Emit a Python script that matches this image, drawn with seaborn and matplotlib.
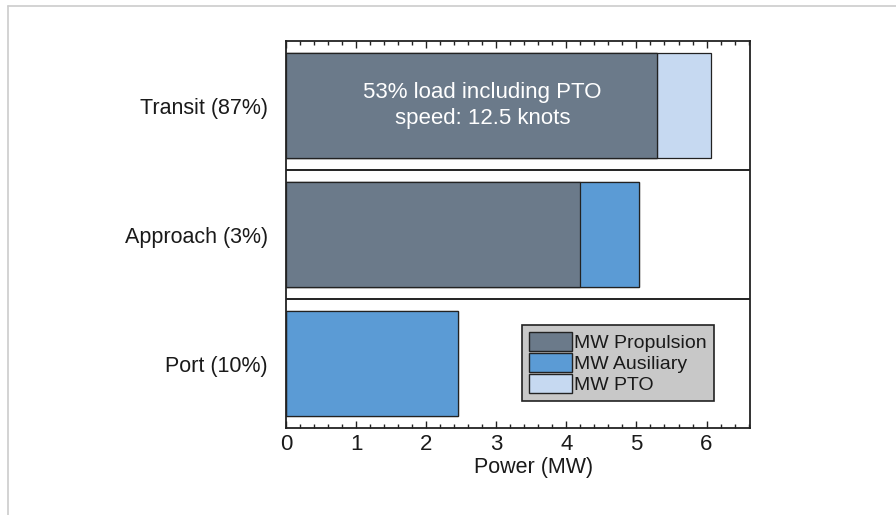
import matplotlib
matplotlib.use("Agg")
import matplotlib.pyplot as plt
import seaborn as sns
import pandas as pd
import numpy as np
from matplotlib.patches import Patch
from matplotlib.ticker import MultipleLocator

sns.set_style("white")
plt.rcParams['font.family'] = ['Liberation Sans', 'DejaVu Sans']

categories = ["Transit (87%)", "Approach (3%)", "Port (10%)"]
propulsion = [5.30, 4.20, 0.0]
auxiliary = [0.0, 0.83, 2.45]
pto = [0.77, 0.0, 0.0]
series_names = ["MW Propulsion", "MW Ausiliary", "MW PTO"]
colors = ["#6b7a8a", "#5b9bd5", "#c6d9f1"]
x_ticks = [0, 1, 2, 3, 4, 5, 6]
annotation = "53% load including PTO\nspeed: 12.5 knots"

df = pd.DataFrame({"cat": categories, "prop": propulsion, "aux": auxiliary, "pto": pto})
df["c1"] = df["prop"]
df["c2"] = df["prop"] + df["aux"]
df["c3"] = df["c2"] + df["pto"]

fig = plt.figure(figsize=(8.96, 5.15), dpi=100)
ax = fig.add_axes([286/896, 1-428/515, (750-286)/896, (428-41)/515])

for col, color in zip(["c3", "c2", "c1"], [colors[2], colors[1], colors[0]]):
    sns.barplot(data=df, x=col, y="cat", order=categories, color=color, ax=ax,
                width=0.81, edgecolor="#222222", linewidth=0.9, saturation=1)

ax.set_xlim(0, 6.62)
ax.set_ylim(2.5, -0.5)
ax.set_xticks(x_ticks)
ax.xaxis.set_minor_locator(MultipleLocator(0.2))
ax.tick_params(axis="x", which="major", direction="in", length=5, width=1, top=True, bottom=True,
               labelsize=16, pad=4, color="#222222", labelcolor="#1a1a1a")
ax.tick_params(axis="x", which="minor", direction="in", length=3, width=1, top=True, bottom=True,
               color="#222222")
ax.tick_params(axis="y", length=0, labelsize=15.5, pad=13, labelcolor="#1a1a1a")
ax.set_xlabel("Power (MW)", fontsize=15.5, labelpad=-1, color="#1a1a1a")
ax.xaxis.set_label_coords((534-286)/464, -0.075)
ax.xaxis.label.set_va("top")
ax.set_ylabel("")
for s in ax.spines.values():
    s.set_visible(True)
    s.set_color("#222222")
    s.set_linewidth(1.3)

for yy in [0.5, 1.5]:
    ax.axhline(yy, color="#111111", linewidth=1.3)

ax.text(2.80, 0, annotation, color="white", ha="center", va="center", fontsize=16, linespacing=1.28)

handles = [Patch(facecolor=c, edgecolor="#222222", linewidth=1.0, label=n) for c, n in zip(colors, series_names)]
leg = ax.legend(handles=handles, loc="lower left", bbox_to_anchor=((522-286)/464, (428-401)/387),
                fontsize=14, frameon=True, fancybox=False, handlelength=2.2, handleheight=1.1,
                handletextpad=0.15, borderpad=0.35, labelspacing=0.06, borderaxespad=0)
leg.get_frame().set_facecolor("#c8c8c8")
leg.get_frame().set_edgecolor("#222222")
leg.get_frame().set_linewidth(1.2)
leg.get_frame().set_alpha(1)
for t in leg.get_texts():
    t.set_color("#1a1a1a")

# page border (left and top)
fig.add_artist(plt.Line2D([7.5/896, 7.5/896], [0, 1-5.5/515], color="#cccccc", linewidth=1.2, transform=fig.transFigure))
fig.add_artist(plt.Line2D([7.5/896, 1], [1-5.5/515, 1-5.5/515], color="#cccccc", linewidth=1.2, transform=fig.transFigure))

fig.savefig("out.png", dpi=100)
